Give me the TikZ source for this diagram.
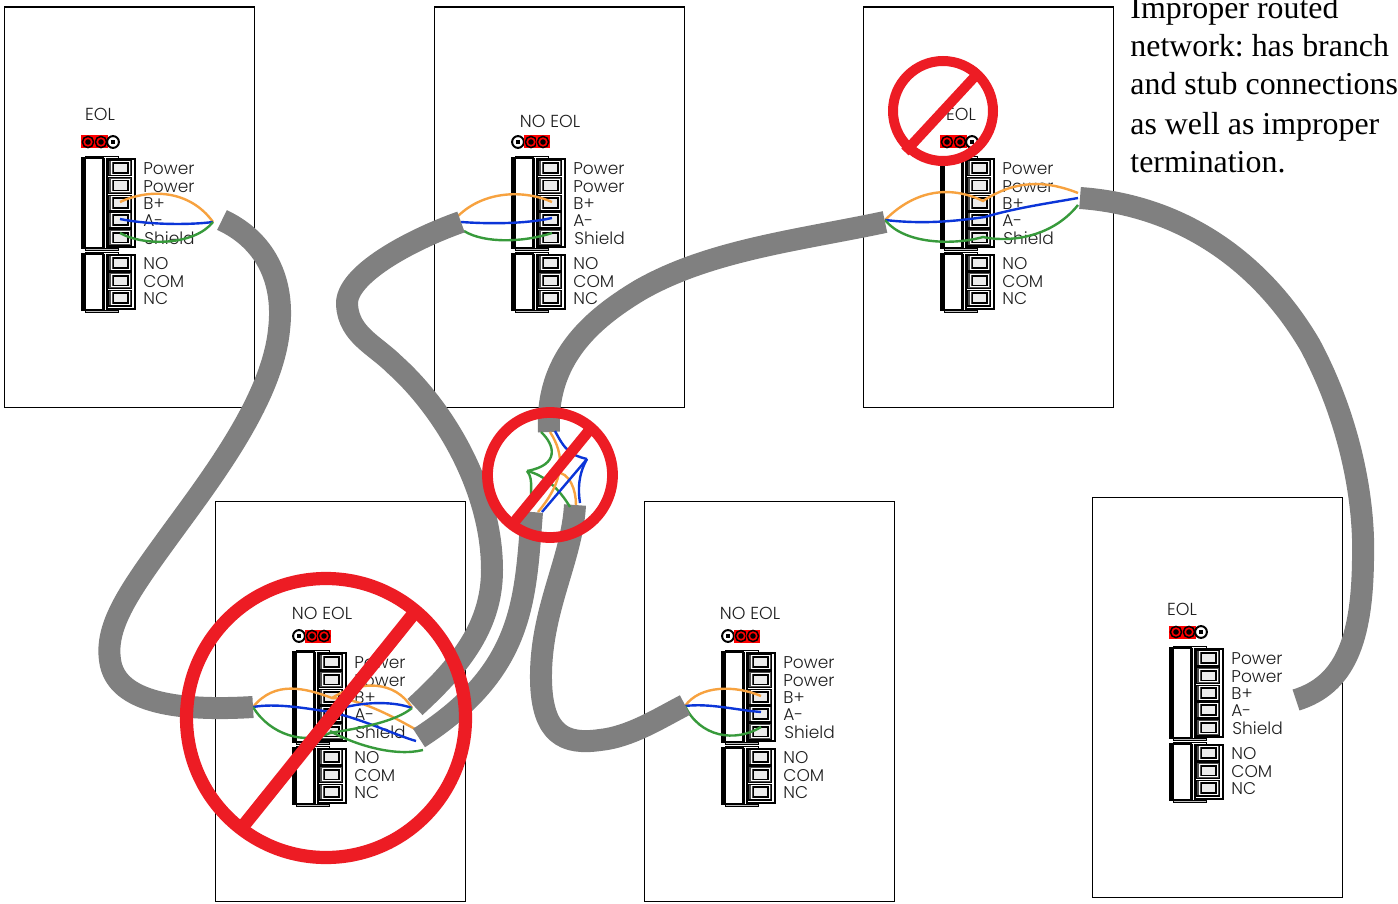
\documentclass[tikz,border=0pt]{standalone}
\usepackage{fontspec}
\setmainfont{Liberation Serif}
\newfontfamily\gothic{Poppins Light}
\definecolor{cablegray}{HTML}{808080}
\definecolor{nored}{HTML}{ED1C24}
\definecolor{wireorange}{HTML}{F7A23F}
\definecolor{wireblue}{HTML}{0B35D8}
\definecolor{wiregreen}{HTML}{379A3B}
\definecolor{inktext}{HTML}{1E1E1E}
\tikzset{
  panelbox/.style={draw=black,line width=.6pt,fill=white},
  plate/.style={font=\gothic\fontsize{8.5}{10}\selectfont,text=inktext,inner sep=0pt,anchor=base west},
  eolplate/.style={font=\gothic\fontsize{8.7}{10}\selectfont,text=inktext,inner sep=0pt,anchor=base},
  note/.style={font=\fontsize{15.95}{18}\selectfont\frenchspacing,text=black,inner sep=0pt,anchor=base west},
  cable/.style={draw=cablegray,line width=11pt,line cap=butt,line join=round},
  wo/.style={draw=wireorange,line width=1.2pt},
  wb/.style={draw=wireblue,line width=1.2pt},
  wg/.style={draw=wiregreen,line width=1.2pt},
  ban/.style={draw=nored,line width=#1},
  ban/.default=6pt
}
\newcommand\term[1]{%
  \draw[black,line width=.7pt,fill=black!70] (104.5,#1-7.8) rectangle (127.5,#1+7.8);
  \draw[white,line width=.5pt,fill=black!70] (107,#1-6.3) rectangle (125.5,#1+6.3);
  \draw[black,line width=.8pt,fill=black!8] (109.5,#1-4.8) rectangle (124,#1+4.8);
}
\newcommand\block[3]{% top, bottom, term list
  \draw[black,line width=.4pt,fill=white] (81,#1) rectangle (114,#2);
  \draw[black,line width=.4pt,fill=black!25] (81,#2) rectangle (114,#2+2);
  \draw[black,line width=.7pt] (78,#1+2) rectangle (99,#2);
  \draw[black,line width=1.5pt] (79.2,#1+2) -- (79.2,#2);
  \draw[black,line width=1.2pt] (99.5,#1+2) -- (99.5,#2) (103,#1+2) -- (103,#2);
  \draw[black,line width=.6pt,fill=white] (103,#1+3) rectangle (131,#2-1);
  \foreach \c in {#3} {\term{\c}}
}
\newcommand\redpin[1]{%
  \fill[red] (#1-6.6,128.5) rectangle (#1+6.6,141.5);
  \draw[black,line width=.75pt,fill=red] (#1,135) circle (5.6);
  \fill[black] (#1,135) circle (2.8);
}
\newcommand\whitepin[1]{%
  \draw[black,line width=1pt,fill=white] (#1,135) circle (5.9);
  \fill[black] (#1-2.2,132.8) rectangle (#1+2.2,137.2);
}
% name, box x, box y, EOL text, EOL local x, EOL local baseline, 1 = EOL jumper / 0 = NO EOL
\newcommand\device[7]{%
  \node[panelbox,minimum width=125pt,minimum height=200pt,inner sep=0pt,anchor=north west] (#1) at (#2-.5,#3-.5) {};
  \begin{scope}[shift={(#2,#3)}]
    \block{149}{241}{161,178.5,196,213,230.5}
    \block{245}{303}{256,273.5,291}
    \ifnum#7=1 \redpin{84}\redpin{97}\whitepin{109}\else \whitepin{84}\redpin{97}\redpin{109}\fi
    \node[eolplate] (#1eol) at (#5,#6) {#4};
    \node[plate] (#1p1) at (139,167.5) {Power};
    \node[plate] (#1p2) at (139,185.5) {Power};
    \node[plate] (#1bp) at (139,202.5) {B+};
    \node[plate] (#1am) at (139,219.5) {A-};
    \node[plate] (#1sh) at (140,237.5) {Shield};
    \node[plate] (#1no) at (139,262.5) {NO};
    \node[plate] (#1co) at (139,280.5) {COM};
    \node[plate] (#1nc) at (139,297.5) {NC};
  \end{scope}
}
\begin{document}
\begin{tikzpicture}[x=0.5pt,y=-0.5pt]
\useasboundingbox (0,0) rectangle (1398,904);
\clip (0,0) rectangle (1398,904);
\fill[white] (0,0) rectangle (1398,904);

\device{d1}{4}{7}{EOL}{96}{113}{1}
\device{d2}{434}{7}{NO EOL}{116}{120}{0}
\device{d3}{863}{7}{EOL}{98}{113}{1}
\device{d4}{215}{501}{NO EOL}{107}{118}{0}
\device{d5}{644}{501}{NO EOL}{106}{118}{0}
\device{d6}{1092}{497}{EOL}{90}{118}{1}

% wires device 1
\coordinate (w1) at (213,222);
\draw[wo] (120,202) .. controls (150,188) and (190,190) .. (w1);
\draw[wb] (120,219) .. controls (150,225) and (190,225) .. (w1);
\draw[wg] (120,233) .. controls (145,247) and (195,245) .. (w1);
% wires device 2
\draw[wo] (552,202) .. controls (525,190) and (485,190) .. (458,216);
\draw[wb] (552,218) .. controls (525,224) and (490,224) .. (461,222);
\draw[wg] (552,233) .. controls (525,242) and (485,244) .. (464,231);
% wires device 3
\coordinate (w3l) at (885,220);
\draw[wo] (w3l) .. controls (915,190) and (950,185) .. (983,201) .. controls (1015,180) and (1045,180) .. (1078,193);
\draw[wb] (w3l) .. controls (920,224) and (950,222) .. (985,217) .. controls (1015,208) and (1050,203) .. (1078,198);
\draw[wg] (w3l) .. controls (905,245) and (955,245) .. (983,237) .. controls (1005,242) and (1050,240) .. (1078,205);
% wires device 4
\coordinate (w4l) at (253,707);
\draw[wo] (w4l) .. controls (275,680) and (305,688) .. (332,698) .. controls (360,680) and (395,680) .. (412,708);
\draw[wo] (332,698) .. controls (360,698) and (395,718) .. (415,729);
\draw[wb] (w4l) .. controls (275,703) and (305,708) .. (330,712) .. controls (355,702) and (390,700) .. (412,708);
\draw[wb] (330,712) .. controls (360,718) and (395,735) .. (416,741);
\draw[wg] (w4l) .. controls (270,735) and (305,745) .. (330,733) .. controls (360,728) and (395,722) .. (412,708);
\draw[wg] (330,731) .. controls (355,745) and (395,757) .. (423,750);
% wires device 5
\coordinate (w5l) at (685,706);
\draw[wo] (w5l) .. controls (700,685) and (735,685) .. (761,696);
\draw[wb] (w5l) .. controls (710,703) and (735,710) .. (761,712);
\draw[wg] (w5l) .. controls (700,737) and (735,743) .. (761,727);

% cables
\draw[cable] (222,220) .. controls (265,240) and (285,280) .. (279,330) .. controls (272,400) and (210,480) .. (170,535) .. controls (130,590) and (105,625) .. (110,660) .. controls (115,700) and (170,712) .. (253,707);
\draw[cable] (461,222) .. controls (410,240) and (345,275) .. (347,305) .. controls (349,335) and (375,345) .. (395,365) .. controls (445,410) and (492,490) .. (492,570) .. controls (492,630) and (455,670) .. (415,707);
\draw[cable] (549,432) .. controls (545,360) and (590,320) .. (640,290) .. controls (710,250) and (800,240) .. (885,222);
\draw[cable] (532,512) .. controls (525,600) and (525,670) .. (419,738);
\draw[cable] (575,505) .. controls (572,560) and (540,610) .. (541,680) .. controls (542,735) and (565,745) .. (600,740) .. controls (630,737) and (660,718) .. (685,705);
\draw[cable] (1080,198) .. controls (1180,205) and (1260,260) .. (1310,345) .. controls (1350,420) and (1365,500) .. (1363,560) .. controls (1362,640) and (1345,685) .. (1296,700);

% junction wires
\coordinate (jg) at (527,471);
\coordinate (jb) at (587,459);
\draw[wg] (541,432) .. controls (555,445) and (560,465) .. (jg);
\draw[wg] (jg) .. controls (535,480) and (528,495) .. (533,507);
\draw[wg] (jg) .. controls (545,475) and (560,490) .. (570,507);
\draw[wo] (550,432) .. controls (565,455) and (565,480) .. (538,512);
\draw[wo] (555,472) .. controls (570,472) and (576,490) .. (576,505);
\draw[wb] (555,431) .. controls (565,450) and (570,455) .. (jb);
\draw[wb] (jb) .. controls (578,475) and (578,490) .. (580,503);
\draw[wb] (jb) -- (542,512);

% prohibition signs
\coordinate (c1) at (326,718);
\coordinate (c2) at (550,475);
\coordinate (c3) at (943,111);
\draw[ban=6.6pt] (c1) circle (139.5);
\draw[ban=6.6pt] (415,612) -- (240,830);
\draw[ban=5.4pt] (c2) circle (62.5);
\draw[ban=5.4pt] (592,427) -- (511,526);
\draw[ban=5pt] (c3) circle (50);
\draw[ban=5pt] (980,71) -- (905,152);

% note
\node[note] (n1) at (1130,19) {Improper routed};
\node[note] (n2) at (1130,57) {network: has branch};
\node[note] (n3) at (1130,95) {and stub connections};
\node[note] (n4) at (1130,134) {as well as improper};
\node[note] (n5) at (1130,172) {termination.};
\end{tikzpicture}
\end{document}
